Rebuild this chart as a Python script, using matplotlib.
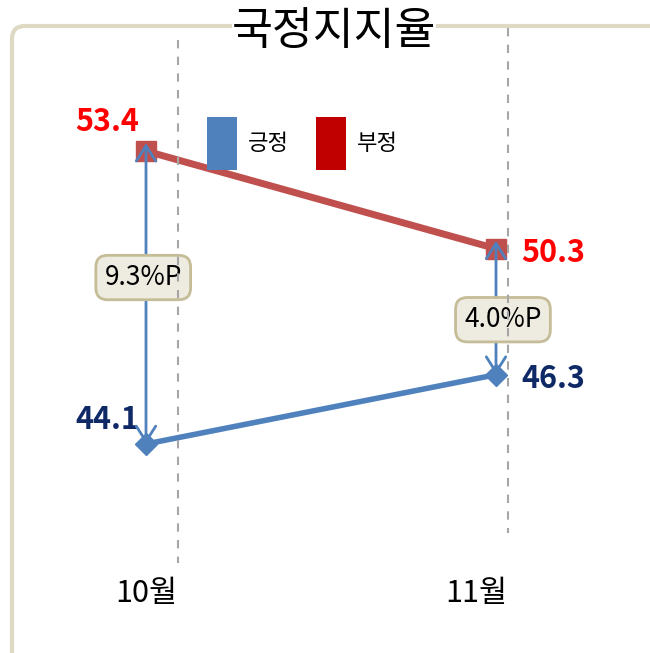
import matplotlib.pyplot as plt
from matplotlib.patches import FancyBboxPatch, Patch
from matplotlib.lines import Line2D

plt.rcParams['font.family'] = ['Noto Sans CJK KR', 'DejaVu Sans']

# data
months = ['10월', '11월']
positive = [44.1, 46.3]   # 긍정
negative = [53.4, 50.3]   # 부정
series_names = ['긍정', '부정']

W, H = 650, 653
fig = plt.figure(figsize=(W / 100, H / 100), dpi=100)
ax = fig.add_axes([0, 0, 1, 1])
ax.set_xlim(-146 / 350, 504 / 350)
ax.set_ylim(44.1 - 209 / 31.5, 44.1 + 444 / 31.5)
ax.axis('off')


def fx(x):
    return x / W


def fy(y):
    return 1 - y / H


# rounded frame
frame = FancyBboxPatch((fx(12), fy(700)), fx(700), (700 - 26) / H,
                       boxstyle='round,pad=0,rounding_size=0.02',
                       transform=fig.transFigure, fill=False,
                       edgecolor='#DDD9C3', linewidth=3, zorder=0)
fig.add_artist(frame)

# dashed guide lines
for x0, y0, y1 in [(178, 40, 563), (508, 28, 533)]:
    fig.add_artist(Line2D([fx(x0), fx(x0)], [fy(y0), fy(y1)],
                          transform=fig.transFigure, color='#A6A6A6',
                          lw=1.5, dashes=(4, 4), zorder=1))

fig.text(fx(334), fy(31), '국정지지율', fontsize=32, ha='center', va='center',
         bbox=dict(facecolor='white', edgecolor='none', pad=0), zorder=5)

xs = list(range(len(months)))
ax.plot(xs, negative, color='#C0504D', lw=5, marker='s', markersize=15, zorder=3)
ax.plot(xs, positive, color='#4F81BD', lw=4, marker='D', markersize=11, zorder=3)

# gap arrows and labels
box_offsets = [-20, 8]
for i, x in enumerate(xs):
    ax.annotate('', xy=(x, negative[i] + 0.25), xytext=(x, positive[i]),
                arrowprops=dict(arrowstyle='<->,head_length=0.55,head_width=0.35',
                                color='#4F81BD', lw=2, shrinkA=0, shrinkB=0,
                                mutation_scale=20), zorder=4)
    mid = (positive[i] + negative[i]) / 2
    ax.annotate(f'{negative[i] - positive[i]:.1f}%P', xy=(x, mid),
                xytext=(-2 if i == 0 else 5, -box_offsets[i] * 0.72),
                textcoords='offset points', ha='center', va='center',
                fontsize=19,
                bbox=dict(boxstyle='round,pad=0.33,rounding_size=0.45',
                          facecolor='#EEECE1', edgecolor='#C4BD97', lw=2),
                zorder=6)

# value labels
neg_off = [(-28, 21), (41, -3)]
pos_off = [(-28, 17), (41, -3)]
for i, x in enumerate(xs):
    ax.annotate(f'{negative[i]:.1f}', xy=(x, negative[i]), xytext=neg_off[i],
                textcoords='offset points', ha='center', va='center',
                fontsize=22, fontweight='bold', color='#FF0000')
    ax.annotate(f'{positive[i]:.1f}', xy=(x, positive[i]), xytext=pos_off[i],
                textcoords='offset points', ha='center', va='center',
                fontsize=22, fontweight='bold', color='#0F2866')

# category labels
for x_right, m in zip([177, 507], months):
    fig.text(fx(x_right), fy(594), m, fontsize=22, ha='right', va='center')

handles = [Patch(facecolor='#4F81BD', edgecolor='none'),
           Patch(facecolor='#C00000', edgecolor='none')]
ax.legend(handles, series_names, loc='upper left',
          bbox_to_anchor=(fx(207), fy(117)), bbox_transform=fig.transFigure,
          ncol=2, frameon=False, fontsize=16, handlelength=1.36,
          handleheight=3.28, handletextpad=0.5, columnspacing=1.2,
          borderpad=0, borderaxespad=0)

fig.savefig('out.png', dpi=100)
